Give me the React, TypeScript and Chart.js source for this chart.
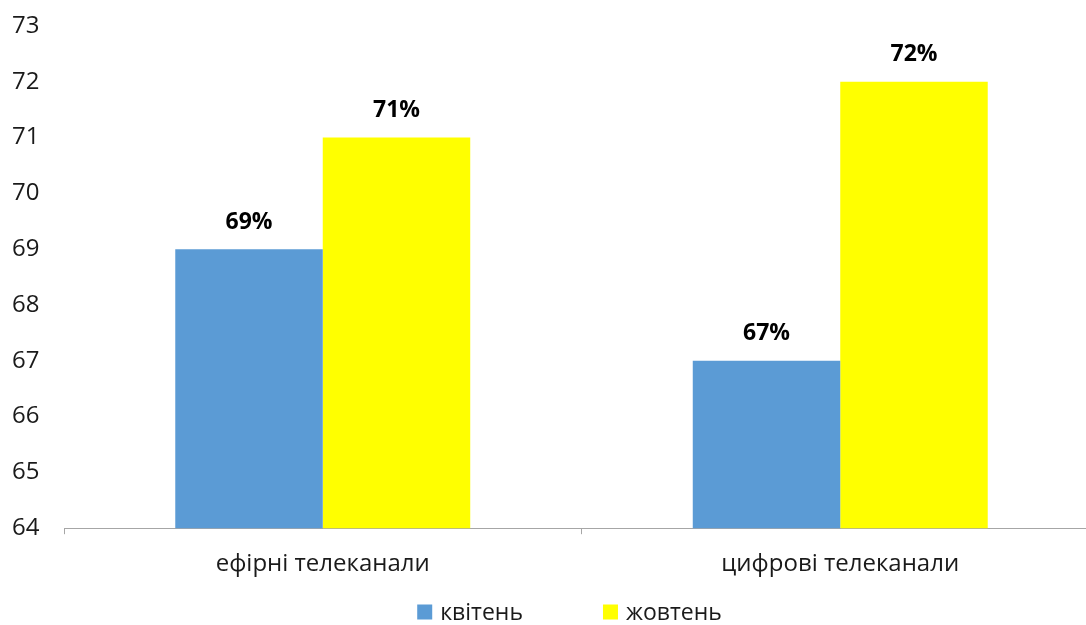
import React, { useEffect, useRef } from "react";
import { Chart, registerables } from "chart.js";

Chart.register(...registerables);

const categories = ["ефірні телеканали", "цифрові телеканали"];
const seriesNames = ["квітень", "жовтень"];
const aprilValues = [69, 67];
const octoberValues = [71, 72];
const seriesColors = ["#5b9bd5", "#ffff00"];
const yTicks = [64, 65, 66, 67, 68, 69, 70, 71, 72, 73];

const FONT = "'Open Sans', 'Noto Sans', sans-serif";

const dataLabelPlugin = {
  id: "dataLabels",
  afterDatasetsDraw(chart: any) {
    const ctx = chart.ctx;
    ctx.save();
    ctx.font = `bold 23px ${FONT}`;
    ctx.fillStyle = "#000";
    ctx.textAlign = "center";
    ctx.textBaseline = "middle";
    chart.data.datasets.forEach((ds: any, i: number) => {
      const meta = chart.getDatasetMeta(i);
      meta.data.forEach((bar: any, j: number) => {
        ctx.fillText(`${ds.data[j]}%`, bar.x, bar.y - 27);
      });
    });
    ctx.restore();
  },
};

const legendPlugin = {
  id: "customLegend",
  afterDraw(chart: any) {
    const ctx = chart.ctx;
    ctx.save();
    ctx.font = `23px ${FONT}`;
    ctx.textBaseline = "middle";
    ctx.textAlign = "left";
    const y = 612;
    const box = 15;
    const gap = 8;
    const itemGap = 80;
    const widths = seriesNames.map((n) => box + gap + ctx.measureText(n).width);
    const total = widths.reduce((a, b) => a + b, 0) + itemGap * (seriesNames.length - 1);
    const center = (chart.chartArea.left + chart.chartArea.right) / 2 - 12;
    let x = center - total / 2;
    seriesNames.forEach((n, i) => {
      ctx.fillStyle = seriesColors[i];
      ctx.fillRect(x, y - box / 2, box, box);
      ctx.fillStyle = "#1a1a1a";
      ctx.fillText(n, x + box + gap, y + 1);
      x += widths[i] + itemGap;
    });
    ctx.restore();
  },
};

export default function App() {
  const ref = useRef<HTMLCanvasElement | null>(null);
  useEffect(() => {
    const chart = new Chart(ref.current!, {
      type: "bar",
      data: {
        labels: categories,
        datasets: [
          { label: seriesNames[0], data: aprilValues, backgroundColor: seriesColors[0] },
          { label: seriesNames[1], data: octoberValues, backgroundColor: seriesColors[1] },
        ],
      },
      options: {
        animation: false,
        responsive: false,
        maintainAspectRatio: false,
        layout: { padding: { top: 26, right: 0, bottom: 30, left: 12 } },
        datasets: { bar: { categoryPercentage: 0.57, barPercentage: 1.0 } },
        plugins: { legend: { display: false }, tooltip: { enabled: false } },
        scales: {
          x: {
            grid: { display: true, drawOnChartArea: false, offset: true, tickLength: 6, color: "#a6a6a6" },
            border: { display: true, color: "#a6a6a6", width: 1 },
            ticks: { font: { family: FONT, size: 24 }, color: "#1a1a1a", padding: 16 },
          },
          y: {
            min: 64,
            max: 73,
            afterBuildTicks: (scale: any) => {
              scale.ticks = yTicks.map((v) => ({ value: v }));
            },
            afterFit: (scale: any) => {
              scale.width = 52;
            },
            grid: { display: false },
            border: { display: false },
            ticks: { font: { family: FONT, size: 24 }, color: "#1a1a1a", padding: 0, crossAlign: "far" },
          },
        },
      },
      plugins: [dataLabelPlugin, legendPlugin],
    });
    return () => chart.destroy();
  }, []);
  return (
    <div style={{ position: "fixed", left: 0, top: 0, width: 1086, height: 625, overflow: "hidden", background: "#fff" }}>
      <canvas ref={ref} width={1099} height={625} />
    </div>
  );
}
